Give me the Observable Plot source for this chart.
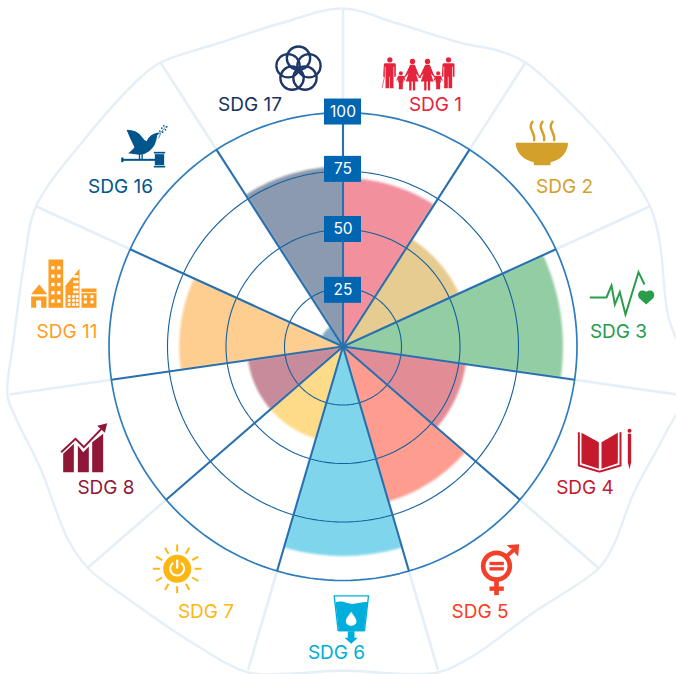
<!DOCTYPE html>
<html>
<head>
<meta charset="utf-8">
<script src="https://cdn.jsdelivr.net/npm/d3@7"></script>
<script src="https://cdn.jsdelivr.net/npm/@observablehq/plot@0.6"></script>
<style>
html,body{margin:0;padding:0;background:#fff;overflow:hidden}
svg{display:block}
</style>
</head>
<body>
<div id="chart"></div>
<script>
// ---- data ----
const sdgNames  = ["SDG 1","SDG 2","SDG 3","SDG 4","SDG 5","SDG 6","SDG 7","SDG 8","SDG 11","SDG 16","SDG 17"];
const sdgValues = [72, 54.5, 94, 53, 69, 89.5, 41, 41, 70, 10, 77];
const sdgColors = ["#E5243B","#D3A029","#279B48","#C5192D","#FF3A21","#00AED9","#FDB713","#8F1838","#FD9D24","#00558C","#19355F"];
const wedgeColors = ["#E5243B","#CE9A24","#279B48","#C5192D","#FF3A21","#00AED9","#FDB713","#8F1838","#FD9D24","#00558C","#19355F"];
const tickValues = [25, 50, 75, 100];
const tickBoxAt  = [24, 50, 75.7, 100.2];

// ---- layout ----
const W = 676, H = 674, CX = 342.5, CY = 346;
const labelX = [435, 564, 618, 584.5, 479.5, 336, 205.5, 105.5, 66.5, 120, 249.5];
const labelY = [104, 186, 331, 487, 611, 652, 611, 487, 331, 186, 104];
const outlinePx = [[342,8],[397,23],[463,43],[497,50],[525,62],[580,113],[613,150],[650,207],[659,240],[668,317],[690,380],[665,433],[633,493],[613,545],[598,568],[533,612],[470,657],[437,672],[393,673],[343,670],[293,673],[248,672],[193,643],[127,598],[88,568],[68,540],[40,468],[15,417],[7,395],[13,340],[24,260],[35,207],[83,140],[140,77],[160,62],[217,43],[283,22]];

const rScale = d3.scaleLinear([0,100],[0,234]);
const polar = (deg, v) => { const a = deg*Math.PI/180, r = rScale(v); return {x:r*Math.sin(a), y:-r*Math.cos(a)}; };
const step = 360/sdgNames.length;

const wedges = sdgNames.flatMap((name,i) => {
  const pts = [{...polar(0,0), name, color:wedgeColors[i]}];
  for (let d=0; d<=32; d++) pts.push({...polar(i*step + d/32*step, sdgValues[i]), name, color:wedgeColors[i]});
  return pts;
});
const rings = tickValues.flatMap(v => d3.range(0,360,2).map(a => ({...polar(a,v), v})));
const spokes = sdgNames.map((_,i)=>i*step);
const outline = outlinePx.map(([x,y])=>({x:x-CX,y:y-CY}));

// ---- icons, drawn on a 3x grid ----
const man = (c,t)=>`<circle cx="${c}" cy="${t+8}" r="8"/><path d="M${c-18} ${t+22}q0-4 5-4h26q5 0 5 4v37h-5v-30h-2v64h-11v-34h-2v34h-11v-64h-2v30h-5z"/>`;
const woman = (c,t)=>`<circle cx="${c}" cy="${t+8}" r="8"/><path d="M${c-7} ${t+18}h14l12 30 7 8-3 2-13-14 8 24h-10v28h-7v-28h-4v28h-7v-28h-10l8-24-13 14-3-2 7-8z"/>`;
const kid = (c,t)=>`<circle cx="${c}" cy="${t+6}" r="6"/><path d="M${c-8} ${t+14}h16l6 14-3 1-3-6v11h-2v20h-6v-16h-0v16h-6v-20h-2v-11l-3 6-3-1z"/>`;
const sun = d3.range(12).map(i=>{const a=i*Math.PI/6;return `<line x1="${350+52*Math.cos(a)}" y1="${85+52*Math.sin(a)}" x2="${350+73*Math.cos(a)}" y2="${85+73*Math.sin(a)}" stroke="#FDB713" stroke-width="6"/>`}).join("");
const petals = d3.range(5).map(i=>{const a=(-90+i*72)*Math.PI/180;return `<circle cx="${894+33*Math.cos(a)}" cy="${206+33*Math.sin(a)}" r="35" fill="none" stroke="#1C3768" stroke-width="7"/>`}).join("");
const winGrid = (xs,ys,s)=>ys.flatMap(y=>xs.map(x=>`<rect x="${x}" y="${y}" width="${s}" height="${s}" fill="#fff"/>`)).join("");

const icons = [
 {o:[330,0],vb:[150,165,230,105],c:"#E5243B",b:man(178,170)+kid(211,212)+woman(246,175)+woman(291,175)+kid(323,212)+man(354,170)+`<path d="M162 228L155 262" stroke="#E5243B" stroke-width="2"/>`},
 {o:[330,0],vb:[552,358,164,140],c:"#D3A029",b:`<path d="M556 427H712V436C706 462 688 480 660 485V494H610V485C582 480 562 462 556 436Z"/><g fill="none" stroke="#D3A029" stroke-width="7.5" stroke-linecap="round"><path d="M606 364C590 385 615 395 611 419"/><path d="M636 364C620 385 645 395 641 419"/><path d="M666 364C650 385 675 395 671 419"/></g>`},
 {o:[560,200],vb:[85,205,200,145],c:"#2A9D4C",b:`<path d="M88 291H138L153 255L163 312L178 275L195 342L234 215L252 252" fill="none" stroke="#2A9D4C" stroke-width="6"/><path d="M257 312L236 293C226 280 240 262 257 274C274 262 288 280 278 293Z"/>`},
 {o:[530,400],vb:[140,82,170,135],c:"#C5192D",b:`<path d="M153 97L205 125V205L153 188ZM213 125L262 97V188L213 205Z"/><path d="M145 95V195L207 214L270 195V95" fill="none" stroke="#C5192D" stroke-width="6"/><circle cx="297" cy="91" r="6"/><path d="M292 100H302V185L297 206L292 185Z"/>`},
 {o:[420,430],vb:[178,338,122,158],c:"#F2402A",b:`<circle cx="228" cy="407" r="40" fill="none" stroke="#F2402A" stroke-width="14"/><rect x="207" y="394" width="43" height="10"/><rect x="207" y="410" width="43" height="10"/><path d="M258 378L284 354" stroke="#F2402A" stroke-width="12"/><path d="M258 344L296 341L293 378L282 366V354H270Z"/><rect x="221" y="450" width="14" height="44"/><rect x="207" y="468" width="43" height="13"/>`},
 {o:[60,540],vb:[815,160,115,152],c:"#00AEDB",b:`<path d="M821 166H924L912 270H833Z" fill="none" stroke="#00AEDB" stroke-width="4"/><path d="M825 185C850 178 860 192 880 190C895 189 905 184 921 185L910 272H835Z"/><path d="M872 214C882 228 888 236 888 243C888 250 880 256 872 256C864 256 856 250 856 243C856 236 862 228 872 214Z" fill="#fff"/><path d="M862 272H882V292H892L872 310L852 292H862Z"/>`},
 {o:[60,540],vb:[274,9,152,152],c:"#FDB713",b:sun+`<circle cx="350" cy="85" r="42"/><path d="M338 67A21 21 0 1 0 362 67" fill="none" stroke="#fff" stroke-width="6"/><path d="M350 58V84" stroke="#fff" stroke-width="7"/>`},
 {o:[40,400],vb:[58,64,146,155],c:"#8F1838",b:`<path d="M68 160L100 130V215H68ZM112 135L128 155L145 138V215H112ZM155 125L188 100V215H155Z"/><path d="M62 155L105 115L130 140L180 88" fill="none" stroke="#fff" stroke-width="11"/><path d="M62 155L105 115L130 140L182 86" fill="none" stroke="#8F1838" stroke-width="6"/><path d="M170 76L200 68L193 97Z"/>`},
 {o:[0,200],vb:[90,175,200,150],c:"#FD9D24",b:`<path d="M92 281L116 252L140 281Z"/><path d="M92 288H138V322H122V300H107V322H92Z"/><path d="M144 177H188V322H144Z"/>${winGrid([152,170],[197,222,247,272,297],10)}<path d="M195 322V255L237 205V322Z"/>${winGrid([202,215,226],[284,296,308],8)}${winGrid([218,226],[224,240,256,270],8)}<path d="M243 264H288V322H243Z"/><rect x="243" y="275" width="45" height="3" fill="#fff"/>${winGrid([250,270],[284,300],9)}`},
 {o:[0,100],vb:[358,70,146,136],c:"#00558C",b:`<path d="M378 88Q410 88 425 110Q432 120 438 122Q450 100 470 97L480 97L470 104Q468 135 445 153Q430 165 410 162L383 158Q395 150 402 140Q390 118 378 88Z"/><rect x="415" y="160" width="4" height="18"/><rect x="423" y="160" width="4" height="18"/><rect x="365" y="175" width="100" height="6"/><rect x="362" y="171" width="7" height="14"/><rect x="463" y="161" width="28" height="33"/><rect x="460" y="154" width="34" height="5"/><rect x="460" y="196" width="34" height="5"/><path d="M474 114Q478 95 497 77" fill="none" stroke="#00558C" stroke-width="2"/><g><circle cx="484" cy="83" r="2.5"/><circle cx="495" cy="88" r="2.5"/><circle cx="490" cy="76" r="2.5"/><circle cx="499" cy="79" r="2.5"/><circle cx="478" cy="92" r="2.5"/><circle cx="487" cy="95" r="2.5"/></g>`},
 {o:[0,0],vb:[820,133,148,145],c:"#1C3768",b:petals}
].map(ic=>{
  const [ox,oy]=ic.o,[vx,vy,vw,vh]=ic.vb;
  const svg=`<svg xmlns="http://www.w3.org/2000/svg" viewBox="${vx} ${vy} ${vw} ${vh}" width="${vw/3}" height="${vh/3}"><g fill="${ic.c}">${ic.b}</g></svg>`;
  return {src:"data:image/svg+xml,"+encodeURIComponent(svg), x:ox+(vx+vw/2)/3-CX, y:oy+(vy+vh/2)/3-CY, w:vw/3, h:vh/3};
});

const chart = Plot.plot({
  width:W, height:H, margin:0,
  style:{background:"#fff", fontFamily:"Inter, sans-serif"},
  x:{domain:[-CX, W-CX], range:[0,W], axis:null},
  y:{domain:[-CY, H-CY], range:[0,H], axis:null},
  marks:[
    Plot.line(outline,{x:"x",y:"y",curve:"catmull-rom-closed",stroke:"#E5EFF7",strokeWidth:2.4}),
    Plot.link(spokes,{x1:d=>polar(d,100).x,y1:d=>polar(d,100).y,x2:d=>polar(d,144).x,y2:d=>polar(d,144).y,stroke:"#E5EFF7",strokeWidth:2.6}),
    Plot.line(wedges,{x:"x",y:"y",z:"name",fill:"color",stroke:null,fillOpacity:0.5,imageFilter:"blur(0.8px)"}),
    Plot.line(rings.filter(d=>d.v<100),{x:"x",y:"y",z:"v",curve:"linear-closed",stroke:"#14609F",strokeWidth:1.1}),
    Plot.line(rings.filter(d=>d.v==100),{x:"x",y:"y",curve:"linear-closed",stroke:"#2F7DBD",strokeWidth:1.7}),
    Plot.link(spokes,{x1:0,y1:0,x2:d=>polar(d,100).x,y2:d=>polar(d,100).y,stroke:"#2870AE",strokeWidth:2.1}),
    Plot.rect(tickBoxAt,{x1:-18.5,x2:18.5,y1:d=>polar(0,d).y-13,y2:d=>polar(0,d).y+13,fill:"#0066B2"}),
    Plot.text(tickValues,{x:0,y:(d,i)=>polar(0,tickBoxAt[i]).y,text:d=>String(d),fill:"#fff",fontSize:15.5}),
    Plot.image(icons,{x:"x",y:"y",width:"w",height:"h",src:"src"}),
    Plot.text(sdgNames,{x:(d,i)=>labelX[i]-CX,y:(d,i)=>labelY[i]-CY,text:d=>d,fill:(d,i)=>sdgColors[i],fontSize:19})
  ]
});
document.getElementById("chart").appendChild(chart);
</script>
</body>
</html>
